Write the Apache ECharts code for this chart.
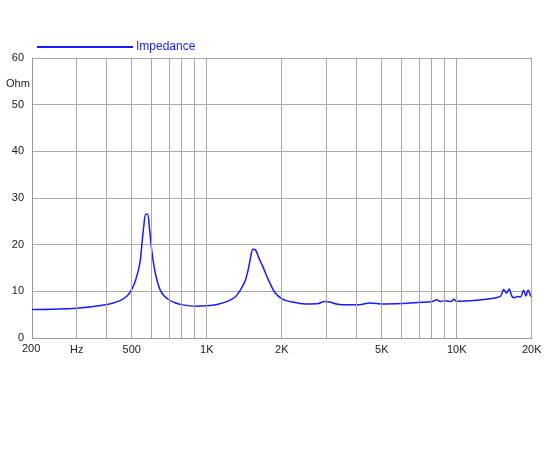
<!DOCTYPE html>
<html><head><meta charset="utf-8">
<script src="https://cdn.jsdelivr.net/npm/echarts@6/dist/echarts.min.js"></script>
<style>html,body{margin:0;padding:0;background:#fff}#c{width:550px;height:450px}</style>
</head><body><div id="c"></div>
<script>
const freqs = [200,300,400,450,480,500,520,540,550,560,570,580,590,605,625,655,700,750,800,900,1000,1100,1200,1300,1380,1430,1470,1500,1530,1570,1620,1670,1770,1870,2000,2200,2500,2800,2950,3100,3300,3600,4000,4500,5000,6000,7000,8000,8300,8600,9000,9500,9700,10000,12000,14000,15000,15400,15800,16200,16600,17000,17500,18000,18500,18900,19300,19700,20000];
const ohms  = [6.1,6.4,7.2,8.0,9.0,10.3,12.5,16,20,24,26.5,26.5,23.5,18,13.5,10,8.3,7.5,7.1,6.8,6.9,7.2,7.8,8.8,10.8,12.5,15,17.5,19,18.8,17,15.5,12.3,9.8,8.4,7.7,7.3,7.4,7.8,7.7,7.3,7.1,7.1,7.5,7.3,7.4,7.6,7.8,8.2,7.8,8.0,7.8,8.3,7.9,8.1,8.5,9.0,10.4,9.6,10.5,9.0,8.6,8.9,8.8,10.3,9.0,10.3,9.2,8.7];
const gridFreqs = [300,400,500,600,700,800,900,1000,2000,3000,4000,5000,6000,7000,8000,9000,10000,20000];
const tickLabels = {200:'200',300:'Hz',500:'500',1000:'1K',2000:'2K',5000:'5K',10000:'10K',20000:'20K'};
const yTicks = [0,10,20,30,40,50,60];
const L = Math.log10;
const chart = echarts.init(document.getElementById('c'));
chart.setOption({
  animation:false,
  grid:{left:32,right:18,top:58,bottom:112},
  legend:{left:32,top:36,data:['Impedance'],icon:'rect',itemWidth:96,itemHeight:2,itemGap:4,
    textStyle:{color:'#1a1aff',fontFamily:'Liberation Sans',fontSize:12,padding:[0,0,0,-2]}},
  graphic:[{type:'text',left:6,top:78,style:{text:'Ohm',fill:'#222',font:'11px Liberation Sans'}},
           {type:'text',left:22,top:343,style:{text:'200',fill:'#222',font:'11px Liberation Sans'}}],
  xAxis:{type:'value',min:L(200),max:L(20000),axisLabel:{show:false},axisTick:{show:false},
    splitLine:{show:false},axisLine:{lineStyle:{color:'#999'}}},
  yAxis:{type:'value',min:0,max:60,interval:10,
    axisLabel:{color:'#222',fontFamily:'Liberation Sans',fontSize:11,formatter:v=>yTicks.includes(v)?String(v):''},
    axisTick:{show:false},axisLine:{show:true,lineStyle:{color:'#999'}},
    splitLine:{lineStyle:{color:'#aaa'}}},
  series:[{name:'Impedance',type:'line',showSymbol:false,smooth:0.3,
    lineStyle:{color:'#1a1aff',width:1.5},itemStyle:{color:'#1a1aff'},
    data:freqs.map((f,i)=>[L(f),ohms[i]]),
    markLine:{silent:true,symbol:'none',animation:false,
      lineStyle:{color:'#aaa',type:'solid',width:1},
      label:{position:'start',color:'#222',fontFamily:'Liberation Sans',fontSize:11,distance:6},
      data:gridFreqs.map(f=>({xAxis:L(f),label:{show:!!tickLabels[f],formatter:tickLabels[f]||'',offset:f===500?[0,0]:[0,0]}}))}
  }]
});
</script></body></html>
